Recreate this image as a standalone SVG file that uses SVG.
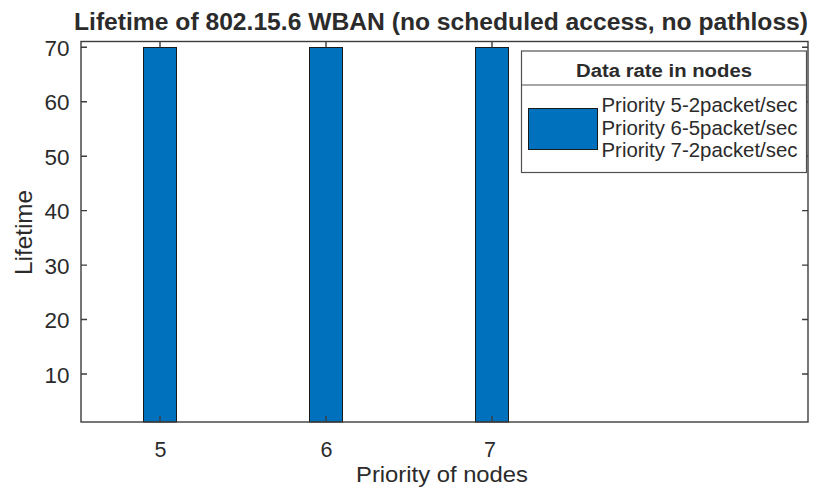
<svg xmlns="http://www.w3.org/2000/svg" width="818" height="492" viewBox="0 0 818 492">
<style>
text{font-family:"Liberation Sans",Arial,sans-serif;fill:#2b2b2b}
.tick{font-size:21.5px}
.ax{stroke:#3c3c3c;stroke-width:1.4;fill:none}
.bar{fill:#0072BD;stroke:#1a1a1a;stroke-width:1}
</style>
<rect width="818" height="492" fill="#fff"/>
<g id="bars">
<rect class="bar" x="143.5" y="47.5" width="33" height="374.5"/>
<rect class="bar" x="309.5" y="47.5" width="33" height="374.5"/>
<rect class="bar" x="475.5" y="47.5" width="33" height="374.5"/>
</g>
<g id="axes">
<rect class="ax" x="81" y="41.5" width="727" height="380.5"/>
<path class="ax" d="M81 374h6M81 319.5h6M81 265.1h6M81 210.6h6M81 156.2h6M81 101.7h6M81 47.3h6
M808 374h-6M808 319.5h-6M808 265.1h-6M808 210.6h-6M808 156.2h-6M808 101.7h-6M808 47.3h-6
M160 41.5v6M326 41.5v6M492 41.5v6M160 422v-6M326 422v-6M492 422v-6"/>
</g>
<g id="yticks" text-anchor="end">
<text class="tick" x="69.5" y="382.5" textLength="25" lengthAdjust="spacingAndGlyphs">10</text>
<text class="tick" x="69.5" y="328" textLength="25" lengthAdjust="spacingAndGlyphs">20</text>
<text class="tick" x="69.5" y="273.6" textLength="25" lengthAdjust="spacingAndGlyphs">30</text>
<text class="tick" x="69.5" y="219.1" textLength="25" lengthAdjust="spacingAndGlyphs">40</text>
<text class="tick" x="69.5" y="164.7" textLength="25" lengthAdjust="spacingAndGlyphs">50</text>
<text class="tick" x="69.5" y="110.2" textLength="25" lengthAdjust="spacingAndGlyphs">60</text>
<text class="tick" x="69.5" y="55.8" textLength="25" lengthAdjust="spacingAndGlyphs">70</text>
</g>
<g id="xticks" text-anchor="middle">
<text class="tick" x="160.5" y="456.5">5</text>
<text class="tick" x="326.5" y="456.5">6</text>
<text class="tick" x="490" y="456.5">7</text>
</g>
<g id="labels">
<text x="356" y="482" font-size="21.5" textLength="172" lengthAdjust="spacingAndGlyphs">Priority of nodes</text>
<text transform="translate(32,275) rotate(-90)" font-size="24" textLength="85" lengthAdjust="spacingAndGlyphs">Lifetime</text>
<text x="74" y="29.5" font-size="23.5" font-weight="bold" fill="#1a1a1a" textLength="734" lengthAdjust="spacingAndGlyphs">Lifetime of 802.15.6 WBAN (no scheduled access, no pathloss)</text>
</g>
<g id="legend">
<rect x="521.5" y="51" width="285" height="121.5" fill="#fff" stroke="#505050" stroke-width="1.2"/>
<line x1="521.5" y1="85" x2="806.5" y2="85" stroke="#505050" stroke-width="1.2"/>
<text x="576" y="76.5" font-size="18" font-weight="bold" fill="#1a1a1a" textLength="176" lengthAdjust="spacingAndGlyphs">Data rate in nodes</text>
<rect class="bar" x="528.5" y="108.5" width="69" height="41"/>
<text x="601.5" y="112" font-size="20.5" textLength="196" lengthAdjust="spacingAndGlyphs">Priority 5-2packet/sec</text>
<text x="601.5" y="134.5" font-size="20.5" textLength="196" lengthAdjust="spacingAndGlyphs">Priority 6-5packet/sec</text>
<text x="601.5" y="157" font-size="20.5" textLength="196" lengthAdjust="spacingAndGlyphs">Priority 7-2packet/sec</text>
</g>
</svg>
